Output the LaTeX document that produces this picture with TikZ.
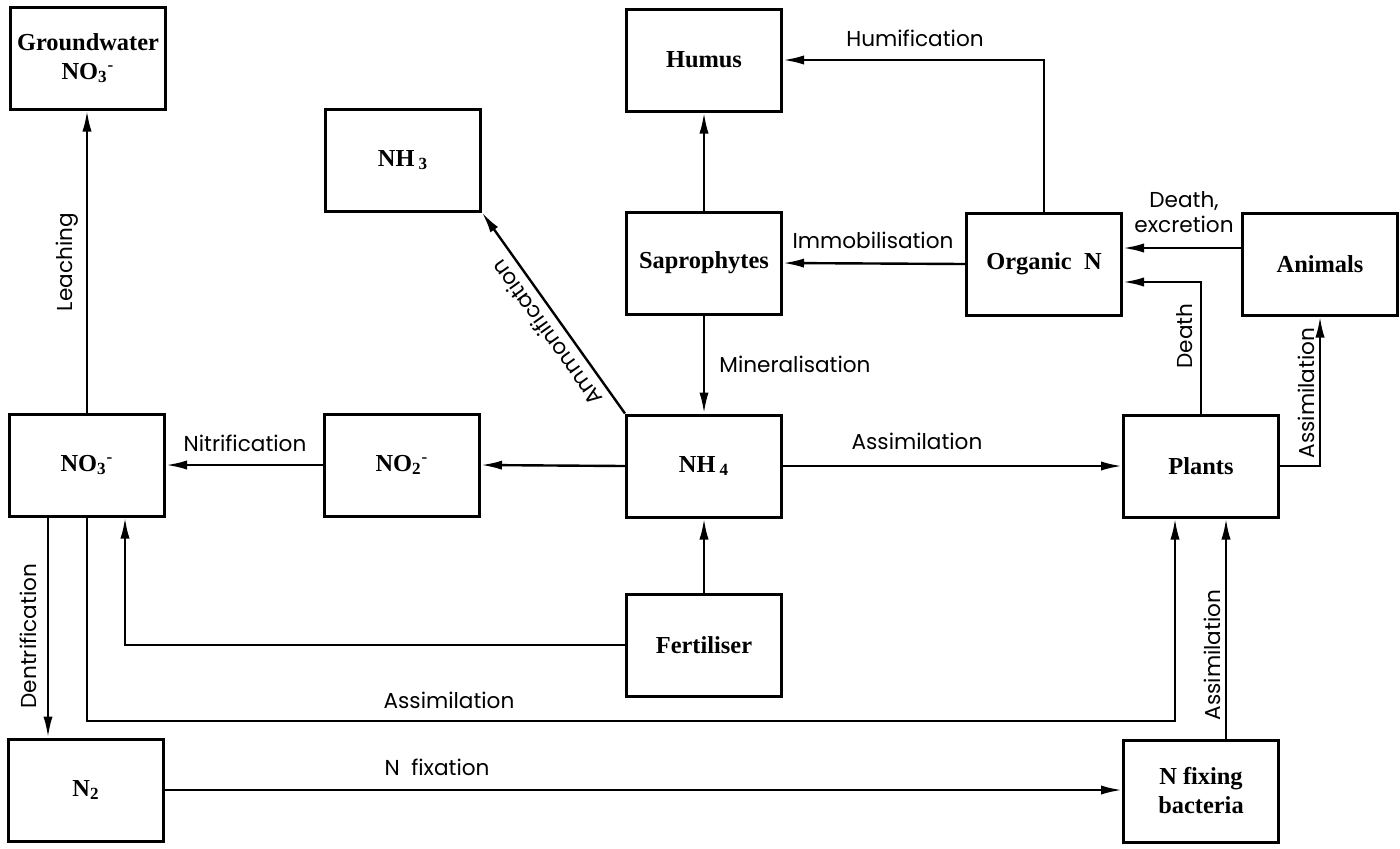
\documentclass[tikz,border=0pt]{standalone}
\usepackage{fontspec}
\setmainfont{Liberation Serif}
\newfontfamily\lblfont{Poppins}
\usetikzlibrary{arrows.meta,calc}
\begin{document}
\begin{tikzpicture}[x=0.5pt,y=-0.5pt,
  box/.style={draw, line width=1.5pt, minimum width=77.5pt, minimum height=51pt,
    inner sep=0pt, align=center, font=\fontsize{12.2}{14.5}\selectfont\bfseries},
  arr/.style={line width=1.2pt, -{Latex[length=10.5pt,width=4.6pt]}},
  lbl/.style={font=\lblfont\fontsize{10.8}{12.5}\selectfont, inner sep=0pt, align=center}]
\useasboundingbox (0,0) rectangle (1400,848);

% boxes
\node[box] (gw)  at (88,58)    {Groundwater\\NO\textsubscript{3}\textsuperscript{-}};
\node[box] (hum) at (704,60)   {Humus};
\node[box] (nh3) at (403,160)  {NH\,\textsubscript{3}};
\node[box] (sap) at (704,263)  {Saprophytes};
\node[box] (org) at (1044,264) {Organic\ \ N};
\node[box] (ani) at (1320,264) {Animals};
\node[box] (no3) at (87,465)   {NO\textsubscript{3}\textsuperscript{-}};
\node[box] (no2) at (402,465)  {NO\textsubscript{2}\textsuperscript{-}};
\node[box] (nh4) at (704,466)  {NH\,\textsubscript{4}};
\node[box] (pla) at (1201,466) {Plants};
\node[box] (fer) at (704,645)  {Fertiliser};
\node[box] (n2)  at (86,790)   {N\textsubscript{2}};
\node[box] (nfb) at (1201,791) {N\ fixing\\bacteria};

% helper coordinates
\coordinate (dn)  at ($(no3.south)+(-39,0)$);
\coordinate (fn)  at ($(no3.south)+(38,0)$);
\coordinate (asy) at (600,721);
\coordinate (pa)  at ($(pla.south)+(-26,0)$);
\coordinate (pb)  at ($(pla.south)+(25,0)$);
\coordinate (de)  at ($(ani.west)+(0,-16)$);
\coordinate (dp)  at ($(org.east)+(0,18)$);

% connectors
\draw[arr] (no3.north) -- (no3.north |- gw.south);
\draw[arr] (no2.west) -- (no3.east);
\draw[arr] (nh4.west) -- (no2.east);
\draw[arr] (nh4.north west) -- (nh3.south east)
  node[lbl, pos=0.45, rotate=125.5, anchor=south, inner sep=4pt] {Ammonification};
\draw[arr] (sap.north) -- (hum.south);
\draw[arr] (sap.south) -- (nh4.north);
\draw[arr] (org.west) -- (sap.east);
\draw[arr] (org.north) |- (hum.east);
\draw[arr] (de) -- (de -| org.east);
\draw[arr] (pla.north) |- (dp);
\draw[arr] (nh4.east) -- (pla.west);
\draw[arr] (pla.east) -| (ani.south);
\draw[arr] (fer.west) -| (fn |- no3.south);
\draw[arr] (no3.south) |- (asy) -| (pa |- pla.south);
\draw[arr] (dn) -- (dn |- n2.north);
\draw[arr] (n2.east) -- (n2.east -| nfb.west);
\draw[arr] (pb |- nfb.north) -- (pb);
\draw[arr] (fer.north) -- (nh4.south);

% labels
\node[lbl, rotate=90] (lleach) at (67,262) {Leaching};
\node[lbl] (lnitr) at (245,443) {Nitrification};
\node[lbl] (lmin)  at (795,364) {Mineralisation};
\node[lbl] (limm)  at (873,240) {Immobilisation};
\node[lbl] (lhum)  at (915,38)  {Humification};
\node[lbl] (ldex)  at (1184,212) {Death,\\excretion};
\node[lbl, rotate=90] (ldea) at (1185,336) {Death};
\node[lbl] (las1)  at (917,441) {Assimilation};
\node[lbl, rotate=90] (las2) at (1306,393) {Assimilation};
\node[lbl] (las3)  at (449,700) {Assimilation};
\node[lbl, rotate=90] (lden) at (28,636) {Dentrification};
\node[lbl] (lnfix) at (437,767) {N\ \ fixation};
\node[lbl, rotate=90] (las4) at (1212,655) {Assimilation};
\end{tikzpicture}
\end{document}
